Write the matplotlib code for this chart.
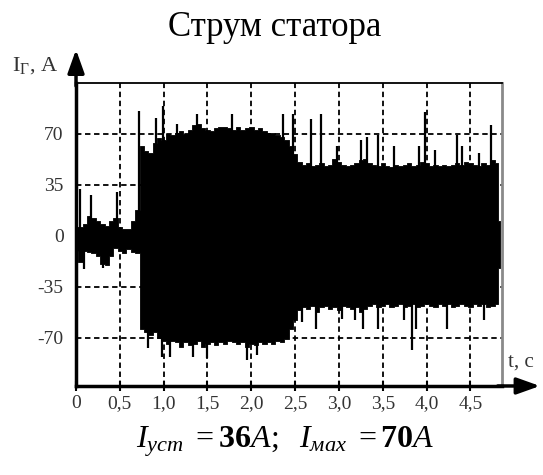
import matplotlib
matplotlib.use("Agg")
import matplotlib.pyplot as plt
import numpy as np

plt.rcParams['font.family'] = ['Liberation Serif', 'DejaVu Serif']
plt.rcParams['mathtext.fontset'] = 'custom'
plt.rcParams['mathtext.rm'] = 'Liberation Serif'
plt.rcParams['mathtext.it'] = 'Liberation Serif:italic'
plt.rcParams['mathtext.bf'] = 'Liberation Serif:bold'

# envelope of the stator current, read every 0.05 s (last sample at 4.84 s)
t = list(np.round(np.arange(0, 4.81, 0.05), 2)) + [4.84]
upper = [6, 6, 8, 14, 12, 10, 8, 7, 10, 12, 6, 5, 5, 10, 18,
         62, 58, 57, 64, 67, 66, 70, 69, 71, 72,
         70, 73, 76, 77, 74, 73, 72, 74, 75, 75,
         74, 73, 75, 73, 74, 75, 73, 74, 72, 71,
         71, 69, 68, 66, 62, 56, 51, 49,
         50, 48, 49, 50, 48, 49, 53, 51, 49, 48,
         49, 50, 52, 53, 50, 49, 48, 50, 48, 47,
         49, 48, 49, 50, 48, 49, 51, 50, 48, 49,
         48, 49, 48, 49, 50, 49, 51, 50, 49, 48,
         50, 49, 52, 50,
         10]
lower = [-10, -18, -10, -11, -12, -14, -19, -20, -14, -8, -10, -12, -9, -11, -12,
         -64, -66, -68, -66, -70, -72, -74, -72, -73, -76,
         -73, -75, -74, -72, -76, -74, -73, -75, -73, -74,
         -72, -73, -74, -73, -76, -74, -75, -73, -74, -73,
         -74, -72, -73, -71, -64, -58, -51, -49,
         -50, -48, -52, -49, -48, -50, -49, -51, -48, -49,
         -50, -49, -52, -50, -48, -47, -49, -48, -47, -49,
         -48, -47, -49, -48, -47, -49, -48, -47, -48, -49,
         -47, -48, -47, -49, -48, -47, -48, -49, -47, -48,
         -47, -49, -48, -47,
         -22]

# isolated peaks
spike_up_t = [0.04, 0.17, 0.47, 0.72, 0.915, 0.99, 1.15, 1.38, 1.78, 2.36, 2.47,
              2.68, 2.79, 2.98, 3.25, 3.32, 3.44, 3.63, 3.91, 3.98, 4.10, 4.35,
              4.40, 4.60, 4.73]
spike_up_v = [32, 28, 30, 86, 81, 89, 77, 84, 84, 84, 84,
              80, 84, 62, 66, 68, 69, 62, 62, 85, 59, 69,
              62, 57, 76]
spike_dn_t = [0.09, 0.31, 0.82, 0.98, 1.07, 1.34, 1.49, 1.95, 2.07, 2.58, 2.74,
              3.03, 3.18, 3.27, 3.44, 3.74, 3.83, 3.88, 4.23, 4.65]
spike_dn_v = [-23, -22, -77, -83, -83, -83, -84, -85, -82, -59, -64,
              -57, -58, -64, -64, -58, -78, -64, -64, -58]

xticks = [0, 0.5, 1.0, 1.5, 2.0, 2.5, 3.0, 3.5, 4.0, 4.5]
xlabels = ["0", "0,5", "1,0", "1,5", "2,0", "2,5", "3,0", "3,5", "4,0", "4,5"]
yticks = [-70, -35, 0, 35, 70]
ylabels = ["-70", "-35", "0", "35", "70"]

fig = plt.figure(figsize=(5.43, 4.75), dpi=100)
ax = fig.add_axes([0.140, 0.1874, 0.7845, 0.6379])

ax.fill_between(t, lower, upper, step='mid', color='k', lw=0.6, edgecolor='k', zorder=3)
ax.vlines(spike_up_t, 0, spike_up_v, color='k', lw=1.6, zorder=3)
ax.vlines(spike_dn_t, 0, spike_dn_v, color='k', lw=1.6, zorder=3)

for x in xticks[1:]:
    ax.axvline(x, color='k', lw=1.3, dashes=(3, 2), zorder=2)
for y in [-70, -35, 35, 70]:
    ax.axhline(y, color='k', lw=1.3, dashes=(3, 2), zorder=2)

ax.set_xlim(0, 4.86)
ax.set_ylim(-103, 105)
ax.set_xticks(xticks)
ax.set_xticklabels(xlabels)
ax.set_yticks(yticks)
ax.set_yticklabels(ylabels)
ax.tick_params(axis='x', direction='inout', length=7, width=1.5, pad=3,
               labelsize=14, labelcolor='#333333')
ax.tick_params(axis='y', length=0, pad=9, labelsize=14, labelcolor='#333333')

ax.spines['left'].set_linewidth(2.5)
ax.spines['bottom'].set_linewidth(2.5)
ax.spines['top'].set_linewidth(1.3)
ax.spines['right'].set_linewidth(2)
ax.spines['right'].set_color('#8a8a8a')

# axis arrows
arrow = dict(arrowstyle='-|>,head_length=0.7,head_width=0.25', lw=2.5, color='k',
             shrinkA=0, shrinkB=0, mutation_scale=20)
ax.annotate('', xy=(1.089, 0), xytext=(0.99, 0), xycoords='axes fraction',
            arrowprops=arrow, annotation_clip=False)
ax.annotate('', xy=(0, 1.11), xytext=(0, 0.99), xycoords='axes fraction',
            arrowprops=arrow, annotation_clip=False)

fig.text(275 / 543, 1 - 27 / 475, 'Струм статора', ha='center', va='center', fontsize=25)
fig.text(12 / 543, 1 - 66 / 475, r'I$_\mathrm{Г}$, A', ha='left', va='center', fontsize=16,
         color='#333333')
fig.text(508 / 543, 1 - 362 / 475, 't, c', ha='left', va='center', fontsize=15, color='#333333')
fig.text(285 / 543, 1 - 442 / 475, r'$I_{уст}\ =\mathbf{36}A;\ \ I_{мах}\ =\mathbf{70}A$',
         ha='center', va='center', fontsize=23)

fig.savefig("out.png", dpi=100)
